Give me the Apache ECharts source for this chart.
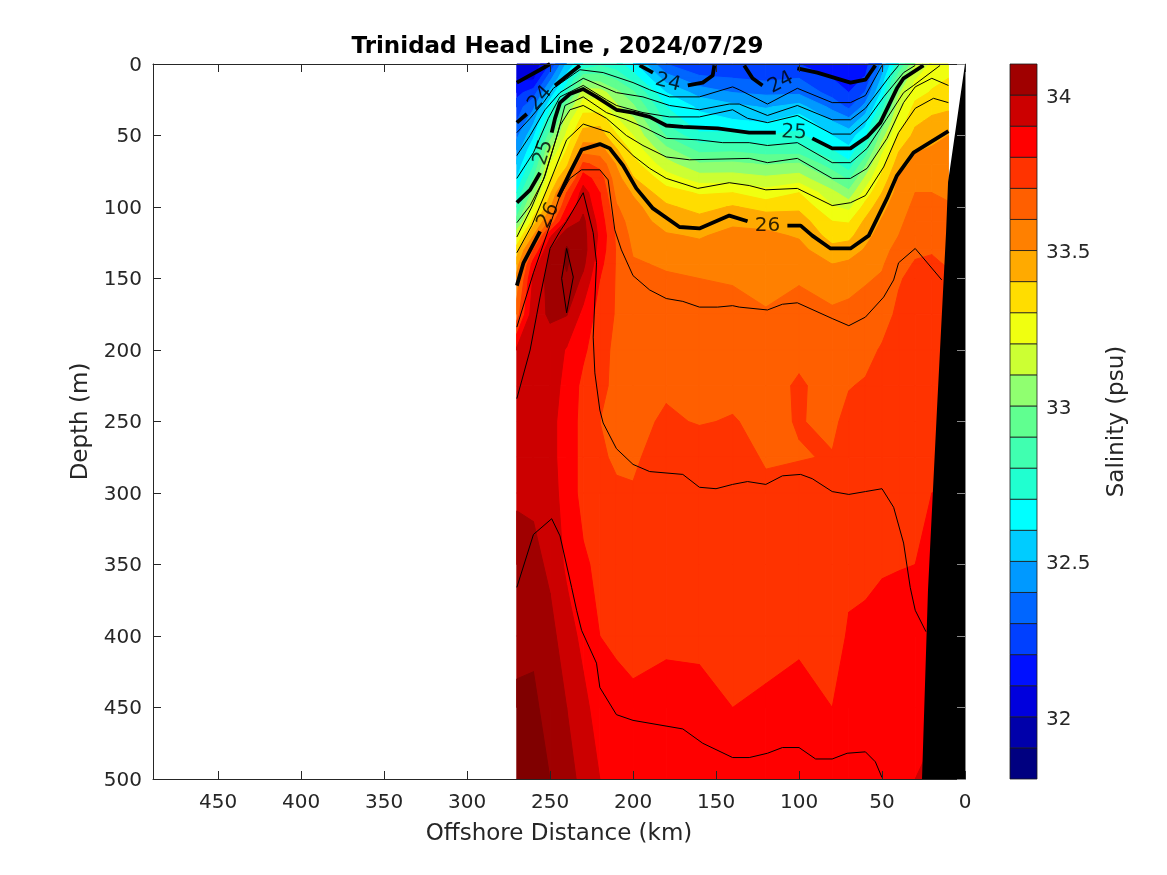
<!DOCTYPE html>
<html>
<head>
<meta charset="utf-8">
<title>Trinidad Head Line</title>
<script src="https://cdn.jsdelivr.net/npm/echarts@6/dist/echarts.min.js"></script>
<style>
  html, body { margin: 0; background: #fff; }
  #chart { width: 1167px; height: 875px; }
</style>
</head>
<body>
<div id="chart"></div>
<script>
// ---------- Section grid: salinity (psu) per station, per depth ----------
const depths = [0, 10, 20, 30, 40, 50, 60, 70, 80, 90, 100, 110, 120, 130, 140, 150,
  175, 200, 225, 250, 275, 300, 350, 400, 450, 500];
const stationsKm = [270, 260, 250, 240, 230, 220, 210, 200, 180, 160, 140, 120, 100, 80, 70, 60, 50, 40, 30, 20, 10];
const salinity = [
  /* 270 */ [32.0, 32.08, 32.17, 32.25, 32.3, 32.38, 32.45, 32.52, 32.6, 32.7, 32.8, 32.95, 33.2, 33.35, 33.45, 33.53, 33.65, 33.92, 33.94, 33.96, 33.97, 33.99, 34.03, 34.07, 34.12, 34.17],
  /* 260 */ [32.03, 32.08, 32.25, 32.38, 32.48, 32.58, 32.68, 32.78, 32.9, 33.05, 33.2, 33.35, 33.5, 33.7, 33.85, 33.92, 33.97, 33.97, 33.98, 33.98, 33.98, 33.98, 34.03, 34.08, 34.12, 34.14],
  /* 250 */ [32.2, 32.37, 32.53, 32.67, 32.8, 32.95, 33.1, 33.2, 33.28, 33.38, 33.48, 33.62, 33.88, 34.0, 34.03, 34.04, 34.01, 33.97, 33.93, 33.92, 33.92, 33.93, 33.98, 34.03, 34.06, 34.1],
  /* 240 */ [32.52, 32.64, 32.78, 33.0, 33.15, 33.22, 33.3, 33.37, 33.52, 33.7, 33.8, 33.92, 34.07, 34.11, 34.11, 34.09, 34.005, 33.89, 33.88, 33.87, 33.87, 33.87, 33.88, 33.95, 34.0, 34.04],
  /* 230 */ [32.7, 32.97, 33.15, 33.26, 33.35, 33.45, 33.55, 33.72, 33.85, 33.95, 33.98, 34.02, 34.03, 34.04, 34.02, 33.98, 33.87, 33.82, 33.77, 33.76, 33.76, 33.76, 33.82, 33.87, 33.93, 33.97],
  /* 220 */ [32.78, 32.95, 33.15, 33.25, 33.37, 33.45, 33.54, 33.67, 33.75, 33.8, 33.83, 33.86, 33.88, 33.86, 33.83, 33.8, 33.76, 33.73, 33.72, 33.7, 33.72, 33.73, 33.77, 33.8, 33.85, 33.9],
  /* 210 */ [32.74, 32.88, 33.03, 33.12, 33.22, 33.31, 33.41, 33.49, 33.54, 33.57, 33.61, 33.65, 33.68, 33.69, 33.69, 33.69, 33.69, 33.68, 33.68, 33.67, 33.68, 33.72, 33.77, 33.78, 33.84, 33.88],
  /* 200 */ [32.63, 32.76, 32.92, 33.02, 33.13, 33.2, 33.27, 33.34, 33.41, 33.49, 33.53, 33.55, 33.57, 33.59, 33.61, 33.63, 33.65, 33.66, 33.67, 33.68, 33.69, 33.705, 33.75, 33.77, 33.82, 33.86],
  /* 180 */ [32.3, 32.45, 32.6, 32.7, 32.77, 32.89, 33.03, 33.14, 33.25, 33.34, 33.42, 33.46, 33.51, 33.55, 33.59, 33.61, 33.64, 33.66, 33.69, 33.71, 33.73, 33.75, 33.76, 33.78, 33.84, 33.87],
  /* 160 */ [32.22, 32.32, 32.46, 32.58, 32.64, 32.72, 32.87, 33.01, 33.15, 33.29, 33.36, 33.44, 33.49, 33.53, 33.57, 33.6, 33.65, 33.66, 33.68, 33.695, 33.74, 33.75, 33.76, 33.78, 33.83, 33.87],
  /* 140 */ [32.24, 32.3, 32.4, 32.53, 32.61, 32.73, 32.88, 33.02, 33.15, 33.3, 33.41, 33.48, 33.53, 33.56, 33.58, 33.59, 33.64, 33.66, 33.68, 33.705, 33.74, 33.75, 33.76, 33.77, 33.8, 33.86],
  /* 120 */ [32.2, 32.28, 32.38, 32.49, 32.59, 32.7, 32.85, 32.99, 33.12, 33.24, 33.36, 33.47, 33.52, 33.54, 33.55, 33.56, 33.61, 33.65, 33.67, 33.68, 33.69, 33.72, 33.76, 33.77, 33.815, 33.86],
  /* 100 */ [32.2, 32.3, 32.38, 32.54, 32.66, 32.72, 32.85, 33.01, 33.15, 33.3, 33.38, 33.45, 33.49, 33.53, 33.57, 33.59, 33.64, 33.68, 33.71, 33.705, 33.695, 33.74, 33.76, 33.78, 33.84, 33.87],
  /*  80 */ [32.17, 32.2, 32.26, 32.37, 32.5, 32.6, 32.7, 32.84, 32.98, 33.13, 33.21, 33.3, 33.36, 33.43, 33.5, 33.54, 33.62, 33.65, 33.67, 33.68, 33.705, 33.73, 33.75, 33.76, 33.8, 33.86],
  /*  70 */ [32.12, 32.16, 32.2, 32.28, 32.44, 32.55, 32.62, 32.73, 32.88, 33.03, 33.17, 33.29, 33.37, 33.45, 33.52, 33.56, 33.63, 33.65, 33.695, 33.73, 33.74, 33.75, 33.78, 33.81, 33.84, 33.87],
  /*  60 */ [32.15, 32.21, 32.31, 32.44, 32.56, 32.67, 32.82, 32.98, 33.12, 33.24, 33.34, 33.42, 33.47, 33.51, 33.55, 33.59, 33.64, 33.67, 33.71, 33.74, 33.75, 33.76, 33.78, 33.82, 33.85, 33.88],
  /*  50 */ [32.42, 32.52, 32.62, 32.75, 32.9, 33.05, 33.17, 33.26, 33.33, 33.4, 33.47, 33.51, 33.54, 33.57, 33.59, 33.61, 33.66, 33.71, 33.73, 33.75, 33.76, 33.765, 33.79, 33.84, 33.86, 33.89],
  /*  40 */ [32.78, 32.97, 33.08, 33.16, 33.24, 33.31, 33.39, 33.45, 33.51, 33.54, 33.56, 33.58, 33.6, 33.63, 33.66, 33.69, 33.72, 33.74, 33.75, 33.76, 33.77, 33.775, 33.795, 33.85, 33.87, 33.89],
  /*  30 */ [33.1, 33.19, 33.26, 33.33, 33.38, 33.43, 33.49, 33.53, 33.56, 33.6, 33.62, 33.64, 33.66, 33.68, 33.71, 33.73, 33.74, 33.75, 33.76, 33.77, 33.78, 33.785, 33.8, 33.86, 33.88, 33.9],
  /*  20 */ [33.22, 33.27, 33.31, 33.37, 33.42, 33.47, 33.51, 33.54, 33.57, 33.6, 33.62, 33.65, 33.67, 33.69, 33.72, 33.74, 33.75, 33.76, 33.77, 33.78, 33.79, 33.8, 33.84, 33.87, 33.89, 33.91],
  /*  10 */ [33.28, 33.3, 33.33, 33.38, 33.45, 33.5, 33.53, 33.55, 33.57, 33.585, 33.61, 33.63, 33.65, 33.67, 33.69, 33.72, 33.74, 33.75, 33.77, 33.78, 33.79, 33.8, 33.84, 33.87, 33.89, 33.91],
];

// ---------- Colour levels ----------
const bandLevels = [31.8, 31.9, 32.0, 32.1, 32.2, 32.3, 32.4, 32.5, 32.6, 32.7, 32.8, 32.9,
  33.0, 33.1, 33.2, 33.3, 33.4, 33.5, 33.6, 33.7, 33.8, 33.9, 34.0, 34.1];
const bandColors = ['#000080', '#0000aa', '#0000dd', '#0010ff', '#0040ff', '#0066ff', '#0099ff', '#00ccff',
  '#00ffff', '#20ffd0', '#40ffb0', '#60ff90', '#90ff70', '#ccff33', '#f0ff10', '#ffdd00',
  '#ffaa00', '#ff8000', '#ff5f00', '#ff3300', '#ff0000', '#cc0000', '#a00000', '#800000'];

// ---------- Density contours, [km, depth] ----------
const sigma24 = [
  [[270, 13], [256, 4], [250, 0]],
  [[270, 41], [264, 35]],
  [[247, 15], [232, 1]],
  [[196, 1], [188, 6]],
  [[167, 15], [158, 13], [152, 8], [151, 1]],
  [[133, 1], [128, 10], [122, 15]],
  [[101, 3], [89, 6], [69, 13], [60, 11], [54, 1]],
];
const sigma25 = [
  [[270, 97], [262, 88], [256, 76]],
  [[249, 48], [247, 38], [244, 27], [238, 21], [230, 17.5], [222, 23], [210, 32], [200, 34], [190, 37], [180, 43], [170, 44], [149, 45], [130, 48], [114, 48]],
  [[92, 52], [80, 59], [69, 59], [59, 51], [51, 41], [41, 17], [37, 10], [25, 1]],
];
const sigma26 = [
  [[270, 155], [266, 139], [256, 117]],
  [[245, 93], [238, 76], [231, 60], [220, 56], [214, 59], [206, 71], [198, 87], [188, 101], [172, 114], [160, 115], [142, 106], [131, 110]],
  [[107, 113], [99, 113], [92, 120], [81, 129], [69, 129], [58, 120], [47, 94], [41, 78], [31, 62], [10, 47]],
];
const thinContours = [
  [[270, 48], [262, 38], [254, 27], [248, 17], [232, 4], [218, 6], [200, 13], [190, 18], [178, 23], [160, 23], [140, 16], [136, 18], [119, 28], [101, 17], [80, 27], [69, 27], [60, 22], [50, 1]],
  [[270, 64], [262, 50], [253, 32], [244, 20], [230, 10], [210, 20], [194, 23], [178, 29], [160, 32], [142, 28], [136, 28], [119, 36], [101, 29], [80, 39], [69, 39], [60, 31], [45, 8], [40, 1]],
  [[270, 80], [260, 62], [251, 38], [244, 23], [230, 15], [216, 25], [210, 29], [194, 34], [178, 37], [160, 37], [140, 32], [131, 38], [119, 41], [101, 36], [80, 49], [69, 49], [59, 39], [49, 23], [37, 6], [30, 1]],
  [[270, 111], [262, 99], [254, 81], [246, 51], [241, 29], [230, 23], [216, 34], [204, 39], [194, 44], [180, 52], [161, 53], [146, 55], [130, 55], [119, 57], [101, 55], [80, 69], [69, 69], [59, 59], [47, 38], [37, 20], [31, 15], [15, 1]],
  [[270, 121], [261, 100], [253, 78], [244, 43], [238, 32], [230, 29], [216, 38], [204, 50], [194, 57], [180, 65], [166, 67], [130, 66], [119, 69], [101, 66], [80, 80], [69, 80], [59, 73], [47, 52], [37, 27], [30, 16], [20, 10], [10, 15]],
  [[270, 132], [261, 113], [252, 88], [240, 53], [230, 42], [214, 48], [200, 64], [190, 73], [180, 80], [161, 87], [142, 83], [130, 85], [120, 88], [101, 87], [80, 99], [69, 97], [60, 92], [49, 72], [40, 48], [30, 31], [19, 24], [10, 27]],
  [[270, 184], [260, 146], [251, 116], [244, 92], [238, 80], [231, 74], [220, 74], [215, 81], [211, 116], [207, 130], [200, 148], [190, 158], [180, 164], [170, 166], [160, 170], [149, 170], [140, 169], [136, 170], [119, 172], [110, 168], [101, 167], [80, 178], [70, 183], [60, 177], [49, 163], [43, 151], [40, 139], [30, 129], [14, 151]],
  [[270, 234], [262, 200], [256, 163], [250, 129], [244, 117], [240, 110], [230, 90], [224, 118], [222, 139], [224, 191], [223, 216], [220, 242], [218, 251], [210, 269], [200, 280], [190, 285], [170, 287], [160, 296], [150, 297], [140, 294], [131, 292], [120, 294], [110, 288], [99, 287], [92, 290], [80, 299], [70, 301], [60, 299], [50, 297], [43, 310], [37, 335], [33, 366], [30, 382], [23.5, 397]],
  [[240, 129], [236, 149], [240, 174], [243, 150], [240, 129]],
  [[270, 366], [260, 329], [249, 318], [244, 330], [237, 366], [234, 382], [231, 396], [222, 419], [220, 436], [210, 455], [200, 459], [170, 465], [158, 475], [140, 485], [130, 485], [119, 482], [110, 478], [100, 478], [90, 486], [80, 486], [71, 482], [60, 481], [54, 488], [50, 499]],
];

// Inline contour labels: km, depth, text, angle
const labelKm = [256, 179, 111, 254, 103, 251, 119];
const labelDepth = [24, 13, 13, 62, 48, 106, 113];
const labelText = ['24', '24', '24', '25', '25', '26', '26'];
const labelAngle = [48, -14, 28, 72, -3, 62, 0];

// Sea floor outline
const bottomKm = [0, 10.2, 11.4, 16.9, 22.3, 25.9, 0];
const bottomDepth = [0, 82.5, 117.5, 242, 368, 500, 500];

const FONT = '"DejaVu Sans", sans-serif';
const INK = '#262626';

// Part of one grid cell where salinity >= level, as [km, depth] vertices
function cellPiece(level, i, j) {
  const corners = [[i, j], [i + 1, j], [i + 1, j + 1], [i, j + 1]];
  const pts = [];
  corners.forEach((p, k) => {
    const q = corners[(k + 1) % 4];
    const vp = salinity[p[0]][p[1]];
    const vq = salinity[q[0]][q[1]];
    if (vp >= level) pts.push([stationsKm[p[0]], depths[p[1]]]);
    if ((vp >= level) !== (vq >= level)) {
      const t = (level - vp) / (vq - vp);
      pts.push([
        stationsKm[p[0]] + (stationsKm[q[0]] - stationsKm[p[0]]) * t,
        depths[p[1]] + (depths[q[1]] - depths[p[1]]) * t,
      ]);
    }
  });
  return pts;
}

function renderBand(params, api) {
  const idx = api.value(0);
  const level = bandLevels[idx];
  const next = bandLevels[idx + 1];
  const color = bandColors[idx];
  const children = [];
  for (let i = 0; i < stationsKm.length - 1; i++) {
    for (let j = 0; j < depths.length - 1; j++) {
      const vals = [salinity[i][j], salinity[i + 1][j], salinity[i + 1][j + 1], salinity[i][j + 1]];
      if (next !== undefined && Math.min(...vals) >= next) continue;
      const pts = cellPiece(level, i, j);
      if (pts.length < 3) continue;
      children.push({
        type: 'polygon',
        shape: { points: pts.map((p) => api.coord(p)) },
        style: { fill: color, stroke: color, lineWidth: 1 },
        silent: true,
      });
    }
  }
  return { type: 'group', children };
}

function renderBottom(params, api) {
  return {
    type: 'polygon',
    shape: { points: bottomKm.map((km, i) => api.coord([km, bottomDepth[i]])) },
    style: { fill: '#000' },
    silent: true,
  };
}

function renderKey(params, api) {
  const i = api.value(0);
  const a = api.coord([0, bandLevels[i]]);
  const b = api.coord([1, bandLevels[i] + 0.1]);
  return {
    type: 'rect',
    shape: { x: a[0], y: b[1], width: b[0] - a[0], height: a[1] - b[1] },
    style: { fill: bandColors[i], stroke: '#1a1a1a', lineWidth: 0.8 },
    silent: true,
  };
}

function contourSeries(points, width) {
  return {
    type: 'line',
    xAxisIndex: 0,
    yAxisIndex: 0,
    data: points,
    showSymbol: false,
    symbol: 'none',
    silent: true,
    animation: false,
    z: 3,
    lineStyle: { color: '#000', width, join: 'round' },
  };
}

const axisLine = { show: true, onZero: false, lineStyle: { color: INK, width: 1 } };
const axisTick = { show: true, inside: true, length: 8, lineStyle: { color: INK, width: 1 } };
const tickFont = { color: INK, fontFamily: FONT, fontSize: 20 };
const nameFont = { color: INK, fontFamily: FONT, fontSize: 23 };

const option = {
  animation: false,
  backgroundColor: '#fff',
  title: {
    text: 'Trinidad Head Line , 2024/07/29',
    left: 552.5,
    top: 31,
    textAlign: 'center',
    textStyle: { color: '#000', fontFamily: FONT, fontSize: 23, fontWeight: 'bold' },
  },
  grid: [
    { left: 153, top: 64, width: 812, height: 715 },
    { left: 1010, top: 64, width: 27, height: 715 },
  ],
  xAxis: [
    {
      type: 'value', gridIndex: 0, inverse: true, min: 0, max: 489.2, interval: 50, position: 'bottom', z: 6,
      name: 'Offshore Distance (km)', nameLocation: 'middle', nameGap: 44, nameTextStyle: nameFont,
      axisLine, axisTick, splitLine: { show: false },
      axisLabel: { ...tickFont, margin: 14, showMaxLabel: false },
    },
    {
      type: 'value', gridIndex: 0, inverse: true, min: 0, max: 489.2, interval: 50, position: 'top', z: 6,
      axisLine, axisTick, splitLine: { show: false }, axisLabel: { show: false },
    },
    { type: 'value', gridIndex: 1, min: 0, max: 1, show: false },
  ],
  yAxis: [
    {
      type: 'value', gridIndex: 0, inverse: true, min: 0, max: 500, interval: 50, position: 'left', z: 6,
      name: 'Depth (m)', nameLocation: 'middle', nameGap: 55, nameRotate: 90, nameTextStyle: nameFont,
      axisLine, axisTick, splitLine: { show: false },
      axisLabel: {
        ...tickFont,
        margin: 11,
        formatter: (v) => `{t|${v}}`,
        rich: { t: { ...tickFont, padding: [3, 0, 0, 0] } },
      },
    },
    {
      type: 'value', gridIndex: 0, inverse: true, min: 0, max: 500, interval: 50, position: 'right', z: 6,
      axisLine: { ...axisLine, lineStyle: { color: '#8a8a8a', width: 1 } },
      axisTick: { ...axisTick, lineStyle: { color: '#8a8a8a', width: 1 } },
      splitLine: { show: false }, axisLabel: { show: false },
    },
    {
      type: 'value', gridIndex: 1, min: 31.8, max: 34.1, interval: 0.1, position: 'right',
      name: 'Salinity (psu)', nameLocation: 'middle', nameGap: 69, nameRotate: 90, nameTextStyle: nameFont,
      axisLine: { show: false }, axisTick: { show: false }, splitLine: { show: false },
      axisLabel: {
        ...tickFont,
        margin: 9,
        formatter: (v) => (Math.abs(v * 2 - Math.round(v * 2)) < 1e-6 ? `{t|${Math.round(v * 2) / 2}}` : ''),
        rich: { t: { ...tickFont, padding: [5, 0, 0, 0] } },
      },
    },
  ],
  series: [
    {
      type: 'custom',
      xAxisIndex: 0,
      yAxisIndex: 0,
      renderItem: renderBand,
      data: bandLevels.map((_, i) => [i]),
      encode: { x: -1, y: -1 },
      silent: true,
      z: 1,
    },
    ...sigma24.map((s) => contourSeries(s, 3.8)),
    ...sigma25.map((s) => contourSeries(s, 3.8)),
    ...sigma26.map((s) => contourSeries(s, 3.8)),
    ...thinContours.map((s) => contourSeries(s, 1)),
    {
      type: 'scatter',
      xAxisIndex: 0,
      yAxisIndex: 0,
      symbolSize: 0,
      silent: true,
      z: 4,
      data: labelKm.map((km, i) => ({
        value: [km, labelDepth[i]],
        label: { show: true, position: 'inside', formatter: labelText[i], rotate: labelAngle[i], color: '#000', fontFamily: FONT, fontSize: 20 },
      })),
    },
    {
      type: 'custom',
      xAxisIndex: 0,
      yAxisIndex: 0,
      renderItem: renderBottom,
      data: [[0]],
      encode: { x: -1, y: -1 },
      silent: true,
      z: 5,
    },
    {
      type: 'custom',
      xAxisIndex: 2,
      yAxisIndex: 2,
      renderItem: renderKey,
      data: bandLevels.slice(0, 23).map((_, i) => [i]),
      encode: { x: -1, y: -1 },
      silent: true,
    },
  ],
};

const chart = echarts.init(document.getElementById('chart'), null, { renderer: 'canvas' });
chart.setOption(option);
</script>
</body>
</html>
